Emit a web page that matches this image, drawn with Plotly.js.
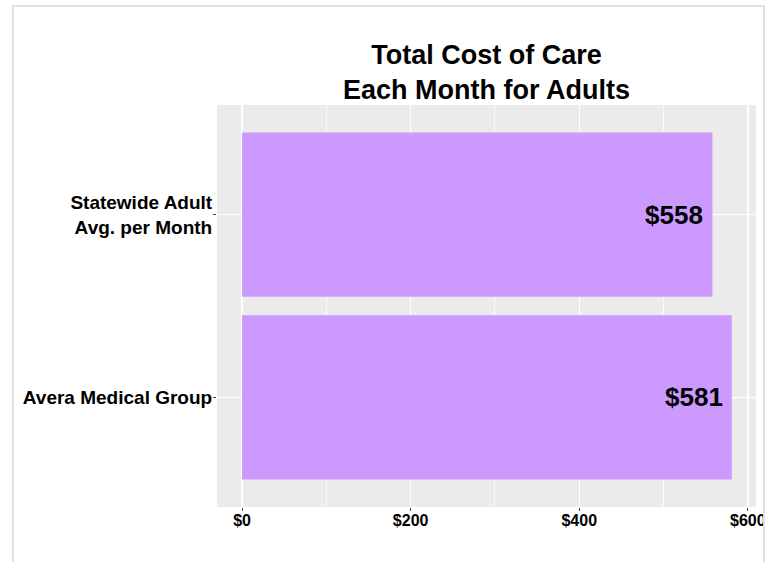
<!DOCTYPE html>
<html>
<head>
<meta charset="utf-8">
<script src="https://cdn.plot.ly/plotly-3.0.1.min.js"></script>
<style>
  html, body { margin: 0; padding: 0; background: #ffffff; }
  #wrap { position: relative; width: 771px; height: 562px; overflow: hidden; }
  #chart { width: 771px; height: 562px; }
  #frame { position: absolute; left: 12px; top: 5px; width: 749px; height: 570px;
           border: 2px solid #dde2e9; border-bottom: none; pointer-events: none; }
  #clip { position: absolute; left: 764px; top: 0; width: 7px; height: 562px; background: #ffffff; }
</style>
</head>
<body>
<div id="wrap">
  <div id="chart"></div>
  <div id="clip"></div>
  <div id="frame"></div>
</div>
<script>
// ---- data ----
const categories = ['Avera Medical Group', 'Statewide Adult<br>Avg. per Month'];
const values = [581, 558];
const valueLabels = ['$581', '$558'];
const xTickVals = [0, 200, 400, 600];
const xTickText = ['$0', '$200', '$400', '$600'];
const xMinorVals = [100, 300, 500];
const chartTitle = 'Total Cost of Care<br>Each Month for Adults';

const FONT = 'Arial, "Liberation Sans", Helvetica, sans-serif';

const trace = {
  type: 'bar',
  orientation: 'h',
  y: categories,
  x: values,
  width: 0.9,
  marker: { color: '#CC99FF', line: { width: 0 } },
  hoverinfo: 'skip'
};

const labelAnnotations = values.map((v, i) => ({
  x: v,
  y: categories[i],
  xref: 'x',
  yref: 'y',
  text: valueLabels[i],
  showarrow: false,
  xanchor: 'right',
  yanchor: 'middle',
  xshift: -7,
  font: { family: FONT, size: 26, color: '#000000', weight: 'bold' }
}));

const layout = {
  width: 771,
  height: 562,
  margin: { l: 217, r: 15, t: 105, b: 55 },
  paper_bgcolor: '#ffffff',
  plot_bgcolor: '#EBEBEB',
  showlegend: false,
  annotations: labelAnnotations,
  title: {
    text: chartTitle,
    font: { family: FONT, size: 27, color: '#000000', weight: 'bold' },
    x: 0.5, xref: 'paper', xanchor: 'center',
    y: 1 - 64 / 562, yref: 'container', yanchor: 'top'
  },
  xaxis: {
    range: [-29.7, 609.7],
    tickvals: xTickVals,
    ticktext: xTickText,
    showgrid: true,
    gridcolor: '#ffffff',
    gridwidth: 1.4,
    zeroline: false,
    showline: false,
    ticks: 'outside',
    ticklen: 3,
    tickwidth: 1,
    tickcolor: '#444444',
    ticklabelstandoff: -4,
    tickfont: { family: FONT, size: 16, color: '#000000', weight: 'bold' },
    minor: { tickvals: xMinorVals, showgrid: true, gridcolor: '#ffffff', gridwidth: 0.7, ticks: '' },
    fixedrange: true
  },
  yaxis: {
    type: 'category',
    categoryorder: 'array',
    categoryarray: categories,
    range: [-0.6, 1.6],
    showgrid: true,
    gridcolor: '#ffffff',
    gridwidth: 1.4,
    zeroline: false,
    showline: false,
    ticks: 'outside',
    ticklen: 3,
    tickwidth: 1,
    tickcolor: '#444444',
    ticklabelstandoff: -3,
    tickfont: { family: FONT, size: 19, color: '#000000', weight: 'bold' },
    fixedrange: true
  }
};

Plotly.newPlot('chart', [trace], layout, { displayModeBar: false, staticPlot: true });
</script>
</body>
</html>
